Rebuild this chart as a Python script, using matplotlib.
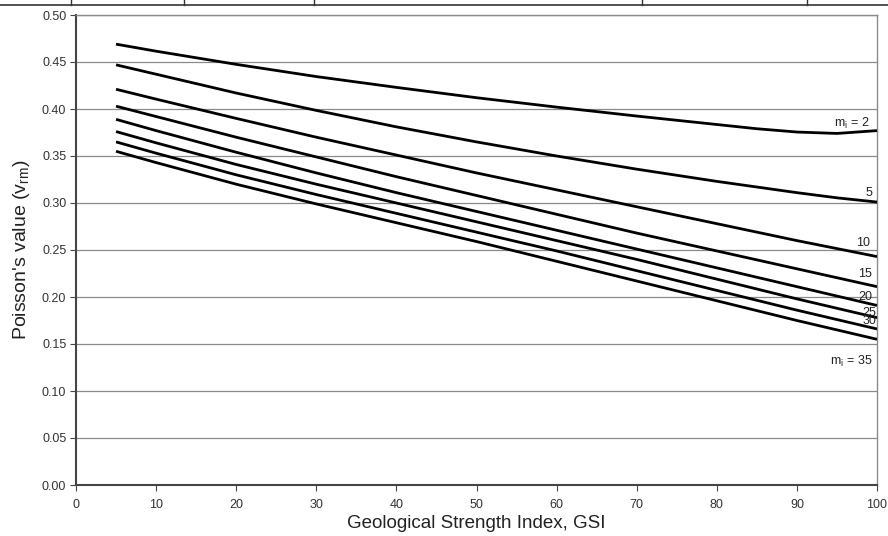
import matplotlib.pyplot as plt
from matplotlib.lines import Line2D

plt.rcParams['font.family'] = ['Liberation Sans', 'DejaVu Sans']

gsi = [5, 10, 20, 30, 40, 50, 60, 70, 80, 85, 90, 95, 100]

# Poisson's ratio for each mi curve
nu_mi2 = [0.469, 0.4615, 0.4475, 0.4345, 0.423, 0.412, 0.402, 0.3925, 0.3835, 0.379, 0.3755, 0.374, 0.377]
nu_mi5 = [0.447, 0.437, 0.417, 0.3985, 0.381, 0.365, 0.350, 0.336, 0.323, 0.317, 0.311, 0.3055, 0.301]
nu_mi10 = [0.421, 0.4105, 0.390, 0.370, 0.351, 0.332, 0.314, 0.296, 0.278, 0.269, 0.260, 0.2515, 0.243]
nu_mi15 = [0.403, 0.392, 0.370, 0.349, 0.328, 0.308, 0.288, 0.268, 0.249, 0.2395, 0.230, 0.2205, 0.211]
nu_mi20 = [0.389, 0.377, 0.354, 0.332, 0.311, 0.291, 0.271, 0.251, 0.231, 0.221, 0.211, 0.201, 0.191]
nu_mi25 = [0.376, 0.364, 0.341, 0.320, 0.300, 0.280, 0.260, 0.240, 0.219, 0.2085, 0.198, 0.188, 0.178]
nu_mi30 = [0.365, 0.353, 0.330, 0.309, 0.289, 0.269, 0.249, 0.228, 0.207, 0.1965, 0.186, 0.176, 0.166]
nu_mi35 = [0.355, 0.343, 0.320, 0.299, 0.279, 0.259, 0.238, 0.217, 0.196, 0.1855, 0.175, 0.165, 0.155]

curves = [nu_mi2, nu_mi5, nu_mi10, nu_mi15, nu_mi20, nu_mi25, nu_mi30, nu_mi35]
curve_labels = ['m$_\\mathregular{i}$ = 2', '5', '10', '15', '20', '25', '30',
                'm$_\\mathregular{i}$ = 35']

# where each curve label sits (right edge x, centre y)
label_pos = [(99.1, 0.385), (99.4, 0.311), (99.1, 0.257), (99.4, 0.2245),
             (99.4, 0.1997), (99.9, 0.1835), (99.9, 0.1745), (99.4, 0.131)]

fig = plt.figure(figsize=(8.88, 5.36), dpi=100)
ax = fig.add_axes([76 / 888, 1 - 485 / 536, 801 / 888, 470 / 536])

for nu in curves:
    ax.plot(gsi, nu, color='black', linewidth=2.0, solid_capstyle='butt',
            solid_joinstyle='round', zorder=3)

for text, (x, y) in zip(curve_labels, label_pos):
    ax.text(x, y, text, ha='right', va='center', fontsize=9, color='#222222', zorder=4)

ax.set_xlim(0, 100)
ax.set_ylim(0, 0.5)
ax.set_xticks(range(0, 101, 10))
ax.set_yticks([i * 0.05 for i in range(11)])
ax.set_yticklabels([f'{i * 0.05:.2f}' for i in range(11)])
ax.tick_params(axis='both', labelsize=9, length=4, width=0.8, color='#444444',
               labelcolor='#333333', direction='out')
ax.tick_params(axis='x', pad=6)
ax.tick_params(axis='y', pad=3)

ax.grid(axis='y', color='#8a8a8a', linewidth=0.9)
ax.set_axisbelow(True)

for side in ['left', 'bottom']:
    ax.spines[side].set_color('#444444')
    ax.spines[side].set_linewidth(1.5)
for side in ['top', 'right']:
    ax.spines[side].set_color('#8a8a8a')
    ax.spines[side].set_linewidth(1.0)

ax.set_xlabel('Geological Strength Index, GSI', fontsize=13.5, color='#222222', labelpad=3)
ax.set_ylabel("Poisson's value (v$_\\mathregular{rm}$)", fontsize=14, color='#222222',
              labelpad=7)

# rule of the page table above the chart
fig.add_artist(Line2D([0, 1], [1 - 5 / 536, 1 - 5 / 536], color='#333333', linewidth=1.2))
for px in [71, 184, 314, 642, 807]:
    fig.add_artist(Line2D([px / 888, px / 888], [1 - 5 / 536, 1], color='#333333', linewidth=1.0))

plt.savefig('out.png', dpi=100)
